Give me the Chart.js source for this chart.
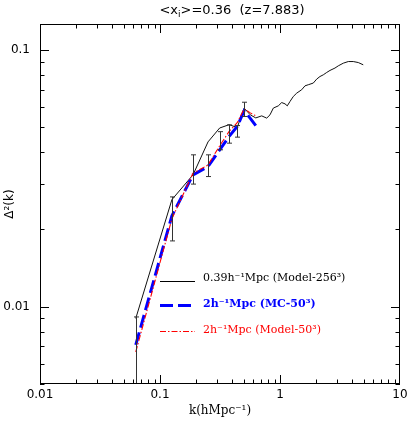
<!DOCTYPE html>
<html><head><meta charset="utf-8">
<script src="https://cdn.jsdelivr.net/npm/chart.js@4.4.0/dist/chart.umd.min.js"></script>
<style>html,body{margin:0;padding:0;background:#fff;}</style>
</head><body>
<canvas id="c" width="409" height="424"></canvas>
<script>
// ---- data ----
const kMC = [0.0628,0.1257,0.1885,0.2513,0.3142,0.3770,0.4398,0.5027,0.5655,0.6283];
const mc50 = [0.0071,0.0226,0.0326,0.0351,0.0408,0.0460,0.0503,0.0579,0.0541,0.0507];
const model50 = [0.00666,0.0220,0.0331,0.0356,0.0423,0.0481,0.0520,0.0589,0.0568,0.0553];
const kErr = [0.0628,0.1257,0.1885,0.2513,0.3142,0.3770,0.4398,0.5027];
const errHigh = [0.00912,0.02675,0.0390,0.0390,0.0480,0.0510,0.0507,0.0625];
const errLow = [0.0045,0.01803,0.0300,0.0321,0.0408,0.0433,0.0457,0.0550];
const k256 = [0.0628,0.1257,0.1885,0.2513,0.3142,0.3770,0.4398,0.5027,0.5655,0.6283,
  0.704,0.775,0.825,0.880,0.968,1.033,1.101,1.150,1.211,1.291,1.378,1.516,1.616,1.721,
  1.894,2.022,2.154,2.295,2.450,2.610,2.872,3.06,3.37,3.71,4.08,4.49,4.94];
const model256 = [0.0090,0.0261,0.0326,0.0438,0.0496,0.0511,0.0498,0.0593,0.0558,0.0543,
  0.0553,0.0542,0.0558,0.0593,0.0605,0.0623,0.0616,0.0605,0.0629,0.0658,0.0678,0.0699,0.0724,0.0731,
  0.0742,0.0769,0.0787,0.0799,0.0816,0.0831,0.0849,0.0866,0.0887,0.0900,0.0900,0.0892,0.0874];
const xTicks = [0.01,0.1,1,10];
const xTickLabels = ['0.01','0.1','1','10'];
const yTicks = [0.01,0.1];
const yTickLabels = ['0.01','0.1'];
const seriesLabels = ['0.39h\u207B\u00B9Mpc (Model-256\u00B3)','2h\u207B\u00B9Mpc (MC-50\u00B3)','2h\u207B\u00B9Mpc (Model-50\u00B3)'];

const pts = (ks, vs) => ks.map((k,i)=>({x:k,y:vs[i]}));

const decor = {
  id:'decor',
  afterDatasetsDraw(chart){
    const {ctx, chartArea:a, scales:{x,y}} = chart;
    ctx.save();
    ctx.beginPath(); ctx.rect(a.left,a.top,a.right-a.left,a.bottom-a.top); ctx.clip();
    ctx.strokeStyle='#333'; ctx.lineWidth=1;
    kErr.forEach((k,i)=>{
      const px = Math.round(x.getPixelForValue(k))+0.5;
      const ph = y.getPixelForValue(errHigh[i]);
      const pl = y.getPixelForValue(errLow[i]);
      ctx.beginPath(); ctx.moveTo(px,ph); ctx.lineTo(px,pl);
      ctx.moveTo(px-2.5,ph); ctx.lineTo(px+2.5,ph);
      ctx.moveTo(px-2.5,pl); ctx.lineTo(px+2.5,pl);
      ctx.stroke();
    });
    ctx.restore();
  },
  afterDraw(chart){
    const {ctx, chartArea:a, scales:{x,y}} = chart;
    ctx.save();
    ctx.strokeStyle='#000'; ctx.lineWidth=1;
    ctx.strokeRect(a.left+0.5,a.top+0.5,a.right-a.left-1,a.bottom-a.top-1);
    // ticks
    ctx.beginPath();
    for (let d=-2; d<=0; d++){
      for (let m=1; m<=9; m++){
        const v = m*Math.pow(10,d);
        const px = Math.round(x.getPixelForValue(v))+0.5;
        const L = m===1?9:4.5;
        ctx.moveTo(px,a.bottom); ctx.lineTo(px,a.bottom-L);
        ctx.moveTo(px,a.top); ctx.lineTo(px,a.top+L);
      }
    }
    for (let d=-3; d<=-1; d++){
      for (let m=1; m<=9; m++){
        const v = m*Math.pow(10,d);
        if (v<0.005 || v>0.126) continue;
        const py = Math.round(y.getPixelForValue(v))+0.5;
        const L = m===1?9:4.5;
        ctx.moveTo(a.left,py); ctx.lineTo(a.left+L,py);
        ctx.moveTo(a.right,py); ctx.lineTo(a.right-L,py);
      }
    }
    ctx.stroke();
    // title with subscript
    ctx.fillStyle='#000'; ctx.textBaseline='alphabetic';
    const f1='13px "DejaVu Sans"', f2='9px "DejaVu Sans"';
    const p1='<x', p2='i', p3='>=0.36  (z=7.883)';
    ctx.font=f1; const w1=ctx.measureText(p1).width, w3=ctx.measureText(p3).width;
    ctx.font=f2; const w2=ctx.measureText(p2).width;
    let tx = 232-(w1+w2+w3)/2; const ty=14;
    ctx.font=f1; ctx.fillText(p1,tx,ty); tx+=w1;
    ctx.font=f2; ctx.fillText(p2,tx,ty+3); tx+=w2;
    ctx.font=f1; ctx.fillText(p3,tx,ty);
    // legend
    const rows = [
      {ly:281.5, ty:278, color:'#000', w:1, dash:[], font:'11px "DejaVu Serif"', label:seriesLabels[0]},
      {ly:305.5, ty:304, color:'#0000ff', w:3, dash:[13,5], font:'bold 11px "DejaVu Serif"', label:seriesLabels[1]},
      {ly:331.5, ty:330, color:'#ff0000', w:1, dash:[6,2,1.5,2], font:'11px "DejaVu Serif"', label:seriesLabels[2]}
    ];
    rows.forEach(r=>{
      ctx.strokeStyle=r.color; ctx.lineWidth=r.w; ctx.setLineDash(r.dash);
      ctx.beginPath(); ctx.moveTo(160,r.ly); ctx.lineTo(195,r.ly); ctx.stroke();
      ctx.setLineDash([]);
      ctx.fillStyle=r.color; ctx.font=r.font; ctx.textBaseline='middle';
      ctx.fillText(r.label,203,r.ty);
    });
    ctx.restore();
  }
};

new Chart(document.getElementById('c'), {
  type:'line',
  data:{datasets:[
    {label:seriesLabels[2], data:pts(kMC,model50), borderColor:'#ff0000', borderWidth:1.1, borderDash:[6,2,1.5,2], pointRadius:0, fill:false, tension:0},
    {label:seriesLabels[1], data:pts(kMC,mc50), borderColor:'#0000ff', borderWidth:3, borderDash:[13,5], pointRadius:0, fill:false, tension:0},
    {label:seriesLabels[0], data:pts(k256,model256), borderColor:'#111', borderWidth:1, pointRadius:0, fill:false, tension:0}
  ]},
  options:{
    responsive:false, animation:false, devicePixelRatio:1,
    layout:{padding:{left:0,right:9,top:24,bottom:0}},
    plugins:{legend:{display:false}, title:{display:false}, tooltip:{enabled:false}},
    scales:{
      x:{type:'logarithmic', min:0.01, max:10, position:'bottom',
        afterBuildTicks:s=>{ s.ticks = xTicks.map(v=>({value:v})); },
        afterFit:s=>{ s.height=40; s.paddingLeft=0; s.paddingRight=0; },
        grid:{display:false, drawTicks:false}, border:{display:false},
        ticks:{font:{family:'DejaVu Sans', size:12}, color:'#000', padding:4, maxRotation:0, autoSkip:false,
          callback:(v,i)=>xTickLabels[i]},
        title:{display:true, text:'k(hMpc\u207B\u00B9)', font:{family:'DejaVu Serif', size:12}, color:'#000', padding:{top:0,bottom:6}}
      },
      y:{type:'logarithmic', min:0.005, max:0.126, position:'left',
        afterBuildTicks:s=>{ s.ticks = yTicks.map(v=>({value:v})); },
        afterFit:s=>{ s.width=40; s.paddingTop=0; s.paddingBottom=0; },
        grid:{display:false, drawTicks:false}, border:{display:false},
        ticks:{font:{family:'DejaVu Sans', size:12}, color:'#000', padding:10, autoSkip:false,
          callback:(v,i)=>yTickLabels[i]},
        title:{display:true, text:'\u0394\u00B2(k)', font:{family:'DejaVu Sans', size:12}, color:'#000', padding:{top:3,bottom:0}}
      }
    }
  },
  plugins:[decor]
});
</script>
</body></html>
